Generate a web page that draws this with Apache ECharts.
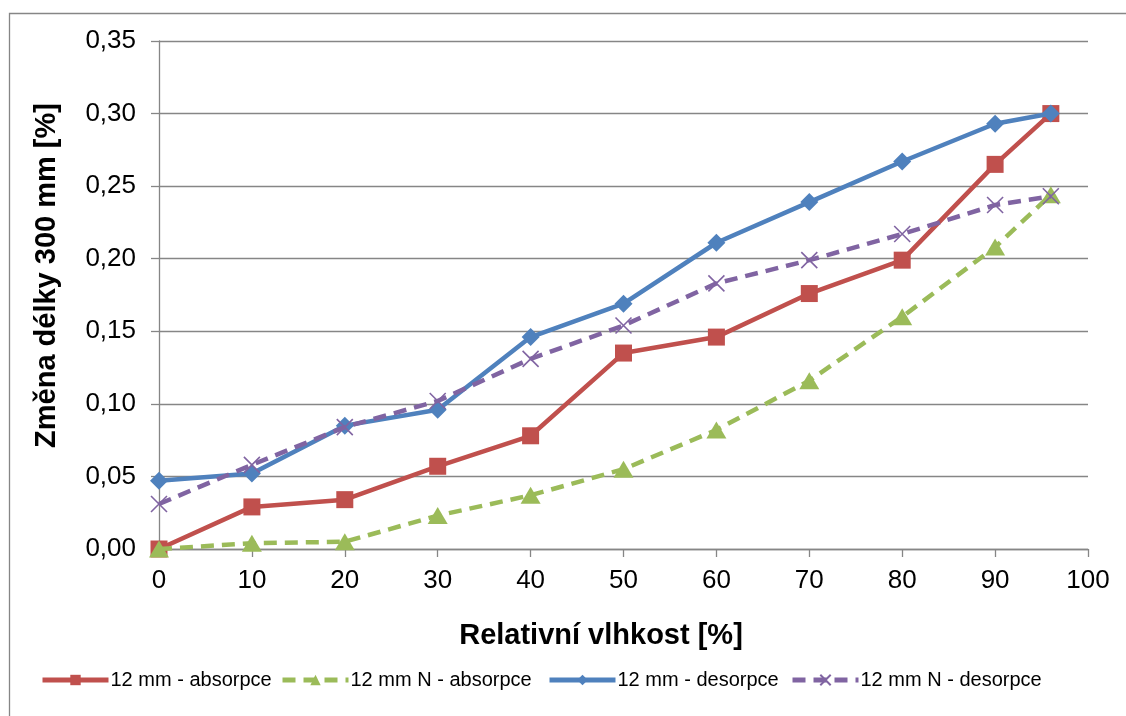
<!DOCTYPE html>
<html>
<head>
<meta charset="utf-8">
<script src="https://cdn.jsdelivr.net/npm/echarts@6/dist/echarts.min.js"></script>
<style>html,body{margin:0;padding:0;background:#fff}#c{width:1126px;height:716px}</style>
</head>
<body>
<div id="c"></div>
<script>
const humidity = [0, 10, 20, 30, 40, 50, 60, 70, 80, 90, 96];
const absorpce12 = [0.000, 0.029, 0.034, 0.057, 0.078, 0.135, 0.146, 0.176, 0.199, 0.265, 0.300];
const absorpce12N = [0.000, 0.004, 0.005, 0.023, 0.037, 0.055, 0.082, 0.116, 0.160, 0.208, 0.244];
const desorpce12 = [0.047, 0.052, 0.085, 0.096, 0.146, 0.169, 0.211, 0.239, 0.267, 0.293, 0.300];
const desorpce12N = [0.031, 0.058, 0.084, 0.102, 0.131, 0.154, 0.183, 0.199, 0.217, 0.237, 0.243];
const seriesNames = ['12 mm - absorpce', '12 mm N - absorpce', '12 mm - desorpce', '12 mm N - desorpce'];
const xTitle = 'Relativní vlhkost [%]';
const yTitle = 'Změna délky 300 mm [%]';

const FONT = '"Liberation Sans", Arial, sans-serif';
const GRID = '#868686';
const pairs = v => humidity.map((x, i) => [x, v[i]]);

const chart = echarts.init(document.getElementById('c'), null, {renderer: 'canvas'});
function mkLegend(name, left) {
  return {
    data: [name], left: left, top: 665, itemWidth: 66, itemHeight: 13, itemGap: 0,
    lineStyle: {width: 5},
    textStyle: {fontFamily: FONT, fontSize: 20, color: '#000', padding: [0, 0, 0, -3]}
  };
}
chart.setOption({
  animation: false,
  backgroundColor: '#fff',
  textStyle: {fontFamily: FONT},
  graphic: [
    {type: 'rect', shape: {x: 9.5, y: 13.5, width: 1300, height: 900}, style: {fill: 'none', stroke: GRID, lineWidth: 1.3}, z: -1},
    {type: 'text', x: 601, y: 636, style: {text: xTitle, font: 'bold 29px ' + FONT, fill: '#000', textAlign: 'center', textVerticalAlign: 'middle'}},
    {type: 'text', x: 47, y: 275.5, rotation: Math.PI / 2, style: {text: yTitle, font: 'bold 29px ' + FONT, fill: '#000', textAlign: 'center', textVerticalAlign: 'middle'}}
  ],
  grid: {left: 159, right: 38, top: 41, bottom: 167, containLabel: false},
  legend: [
    mkLegend(seriesNames[0], 35),
    mkLegend(seriesNames[1], 275),
    mkLegend(seriesNames[2], 542),
    mkLegend(seriesNames[3], 785)
  ],
  xAxis: {
    type: 'value', min: 0, max: 100, interval: 10,
    axisLine: {show: true, lineStyle: {color: GRID, width: 1.3}},
    axisTick: {show: true, length: 8, lineStyle: {color: GRID, width: 1.3}},
    axisLabel: {fontSize: 26, color: '#000', margin: 19, fontFamily: FONT},
    splitLine: {show: false}
  },
  yAxis: {
    type: 'value', min: 0, max: 0.35, interval: 0.05,
    axisLine: {show: true, lineStyle: {color: GRID, width: 1.3}},
    axisTick: {show: true, length: 8, lineStyle: {color: GRID, width: 1.3}},
    axisLabel: {fontSize: 26, color: '#000', margin: 23, fontFamily: FONT,
      formatter: v => v.toFixed(2).replace('.', ',')},
    splitLine: {show: true, lineStyle: {color: GRID, width: 1.3}}
  },
  series: [
    {name: seriesNames[0], type: 'line', data: pairs(absorpce12), symbol: 'rect', symbolSize: 17,
      lineStyle: {color: '#C0504D', width: 4.5}, itemStyle: {color: '#C0504D'}, z: 2},
    {name: seriesNames[1], type: 'line', data: pairs(absorpce12N), symbol: 'triangle', symbolSize: [20, 17],
      lineStyle: {color: '#9BBB59', width: 4.5, type: [13, 8]}, itemStyle: {color: '#9BBB59'}, z: 3},
    {name: seriesNames[2], type: 'line', data: pairs(desorpce12), symbol: 'diamond', symbolSize: 18,
      lineStyle: {color: '#4F81BD', width: 4.5}, itemStyle: {color: '#4F81BD'}, z: 4},
    {name: seriesNames[3], type: 'line', data: pairs(desorpce12N), symbol: 'path://M0,0L10,10M10,0L0,10', symbolSize: 16,
      lineStyle: {color: '#8064A2', width: 4.5, type: [13, 8]}, itemStyle: {color: '#8064A2', borderColor: '#8064A2', borderWidth: 1.6}, z: 5}
  ]
});
</script>
</body>
</html>
